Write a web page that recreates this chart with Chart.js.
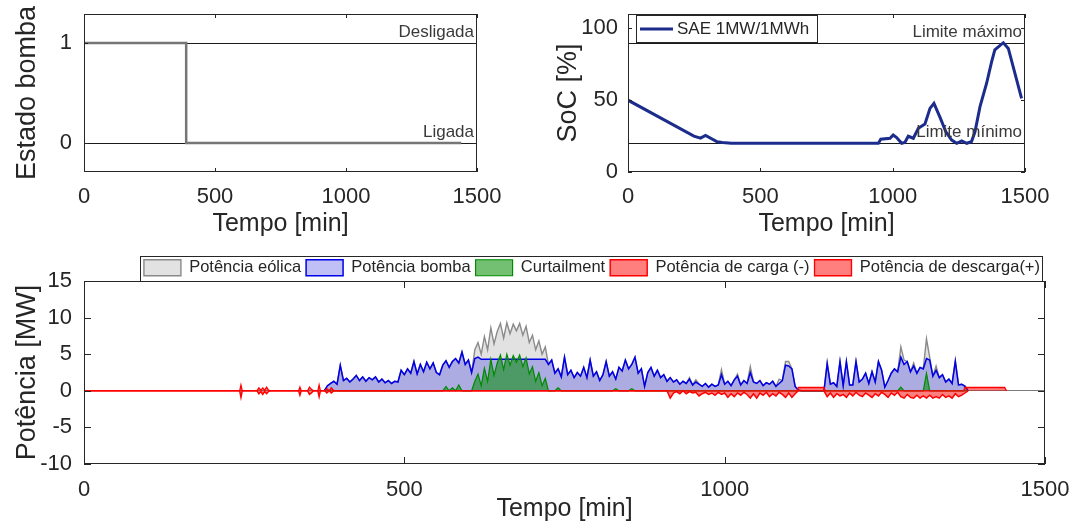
<!DOCTYPE html>
<html lang="pt">
<head>
<meta charset="utf-8">
<title>Estado da bomba, SoC e potências</title>
<script src="https://cdn.jsdelivr.net/npm/chart.js@4.4.1/dist/chart.umd.min.js"></script>
<style>
  html, body { margin: 0; padding: 0; background: #fff; }
  #figura { position: relative; width: 1076px; height: 523px; overflow: hidden; }
  canvas { position: absolute; }
</style>
</head>
<body>
<div id="figura">
  <canvas id="graficoEstado" width="540" height="252" style="left:0;top:-12px"></canvas>
  <canvas id="graficoSoc" width="536" height="252" style="left:540px;top:-12px"></canvas>
  <canvas id="graficoPotencia" width="1084" height="283" style="left:0;top:240px"></canvas>
</div>
<script>
"use strict";

// Marcas dos eixos
const ticksTempo = [0, 500, 1000, 1500];
const ticksEstado = [0, 1];
const ticksSoc = [0, 50, 100];
const ticksPotencia = [-10, -5, 0, 5, 10, 15];

// Estado da bomba (1 = desligada, 0 = ligada)
const estadoTempo = [0, 390, 390, 1440];
const estadoValor = [1, 1, 0, 0];

// Estado de carga do SAE [%]
const socTempo = [0, 249, 274, 293, 337, 357, 390, 946, 955, 990, 1002, 1015, 1034, 1046, 1059, 1078, 1097,
  1122, 1141, 1156, 1179, 1201, 1223, 1242, 1261, 1280, 1298, 1311, 1330, 1355, 1374, 1386, 1418, 1437, 1487];
const socValor = [50, 25, 23.6, 25.5, 21, 20.5, 20, 20, 22.8, 23.5, 25.8, 24, 20, 20.5, 24.9, 23.5, 30.4,
  33.4, 44.3, 47.8, 38, 28, 22.2, 20, 21.7, 20, 21.2, 28, 45.5, 61.8, 76.8, 85, 90, 86, 51.3];

// Potências [MW], uma amostra a cada 5 min a partir de 375 min
const inicioAmostras = 375;
const passo = 5;
const potenciaEolica = [
  0, 0.7, 1.0, 1.3, 0.9, 3.5, 1.4, 1.7, 1.2, 1.6,
  2.1, 1.4, 1.9, 1.3, 1.8, 1.5, 1.9, 1.2, 1.6, 1.1,
  1.4, 1.0, 1.3, 1.2, 2.8, 2.2, 3.0, 2.4, 4.0, 2.3,
  3.6, 2.6, 3.9, 3.0, 3.8, 2.5, 2.2, 3.5, 4.1, 3.2,
  4.0, 4.4, 3.8, 5.3, 3.6, 4.2, 2.5, 5.6, 6.6, 5.0,
  7.4, 5.6, 8.6, 6.4, 8.1, 9.2, 7.2, 9.3, 7.8, 9.1,
  8.2, 9.2, 7.6, 8.8, 6.6, 7.6, 5.6, 6.8, 5.0, 6.0,
  3.6, 4.2, 2.4, 3.0, 1.9, 4.6, 2.2, 2.8, 1.8, 2.5,
  2.0, 3.2, 1.8, 4.2, 2.0, 2.6, 1.4, 2.2, 4.0, 2.0,
  2.6, 1.6, 3.2, 2.7, 4.2, 3.0, 3.6, 4.6, 2.4, 3.0,
  0.6, 2.5, 3.2, 2.0, 2.8, 1.8, 2.2, 1.3, 1.8, 1.2,
  1.5, 0.9, 1.3, 1.0, 1.8, 0.8, 1.5, 0.9, 0.6, 1.0,
  0.5, 0.9, 0.6, 0.8, 2.9, 0.9, 1.3, 0.7, 1.5, 2.3,
  0.8, 1.4, 1.0, 3.3, 1.2, 1.0, 1.4, 0.7, 1.1, 0.9,
  1.3, 0.6, 1.6, 1.4, 4.0, 4.0, 3.0, 0.6, 0.1, 0,
  0, 0, 0, 0, 0, 0, 0, 3.9, 0.9, 1.1,
  0.6, 4.0, 0.7, 4.0, 0.8, 0.8, 4.0, 1.2, 1.6, 2.4,
  1.0, 2.6, 1.2, 4.0, 2.8, 0.5, 1.4, 2.4, 3.0, 2.6,
  6.0, 4.2, 4.0, 2.6, 3.8, 2.4, 3.2, 3.0, 7.1, 4.6,
  2.0, 3.4, 1.8, 2.2, 1.2, 1.6, 1.0, 4.2, 0.8, 0.9,
  0.7, 0
];
const potenciaBomba = [
  0, 0.7, 1.0, 1.3, 0.9, 3.5, 1.4, 1.7, 1.2, 1.6,
  2.1, 1.4, 1.9, 1.3, 1.8, 1.5, 1.9, 1.2, 1.6, 1.1,
  1.4, 1.0, 1.3, 1.2, 2.8, 2.2, 3.0, 2.4, 4.0, 2.3,
  3.6, 2.6, 3.9, 3.0, 3.8, 2.5, 2.2, 3.5, 4.1, 3.2,
  4.0, 4.4, 3.8, 5.3, 3.6, 4.2, 2.5, 4.4, 4.6, 4.3,
  4.3, 4.3, 4.3, 4.3, 4.3, 4.3, 4.3, 4.3, 4.3, 4.3,
  4.3, 4.3, 4.3, 4.3, 4.3, 4.3, 4.3, 4.3, 4.3, 4.3,
  3.6, 4.2, 2.4, 3.0, 1.9, 4.6, 2.2, 2.8, 1.8, 2.5,
  2.0, 3.2, 1.8, 4.2, 2.0, 2.6, 1.4, 2.2, 4.0, 2.0,
  2.6, 1.6, 3.2, 2.7, 4.2, 3.0, 3.6, 4.6, 2.4, 3.0,
  0.6, 2.5, 3.2, 2.0, 2.8, 1.8, 2.2, 1.3, 1.8, 1.2,
  1.5, 0.9, 1.3, 1.0, 1.6, 0.8, 1.2, 0.9, 0.6, 1.0,
  0.5, 0.9, 0.6, 0.8, 2.2, 0.9, 1.3, 0.7, 1.5, 2.0,
  0.8, 1.4, 1.0, 2.5, 1.2, 1.0, 1.4, 0.7, 1.1, 0.9,
  1.3, 0.6, 1.0, 1.4, 3.5, 3.4, 3.0, 0.6, 0.1, 0,
  0, 0, 0, 0, 0, 0, 0, 3.7, 0.9, 1.1,
  0.6, 4.0, 0.7, 4.0, 0.8, 0.8, 4.0, 1.2, 1.6, 2.4,
  1.0, 2.6, 1.2, 4.0, 2.8, 0.5, 1.4, 2.4, 3.0, 2.6,
  4.6, 3.6, 4.0, 2.6, 3.4, 2.4, 3.2, 3.0, 4.4, 4.2,
  2.0, 2.8, 1.8, 2.2, 1.2, 1.6, 1.0, 4.0, 0.8, 0.9,
  0.6, 0
];
const curtailment = [
  0, 0, 0, 0, 0, 0, 0, 0, 0, 0,
  0, 0, 0, 0, 0, 0, 0, 0, 0, 0,
  0, 0, 0, 0, 0, 0, 0, 0, 0, 0,
  0, 0, 0, 0, 0, 0, 0, 0, 0.6, 0,
  0.4, 0, 0.8, 0, 0, 0, 0, 1.3, 2.3, 0.7,
  3.1, 1.3, 4.3, 2.1, 3.8, 4.9, 2.9, 5.0, 3.5, 4.8,
  3.9, 4.9, 3.3, 4.5, 2.3, 3.3, 1.3, 2.5, 0.7, 1.7,
  0, 0, 0, 0.4, 0, 0, 0, 0, 0, 0,
  0, 0, 0, 0, 0, 0, 0, 0, 0, 0,
  0, 0.3, 0, 0, 0, 0, 0.3, 0, 0, 0,
  0, 0, 0, 0, 0, 0, 0, 0, 0, 0,
  0, 0, 0, 0, 0, 0, 0, 0, 0, 0,
  0, 0, 0, 0, 0, 0, 0, 0, 0, 0,
  0, 0, 0, 0, 0, 0, 0, 0, 0, 0,
  0, 0, 0, 0, 0, 0, 0, 0, 0, 0,
  0, 0, 0, 0, 0, 0, 0, 0, 0, 0,
  0, 0, 0, 0, 0, 0, 0, 0, 0, 0,
  0, 0, 0, 0, 0, 0, 0, 0, 0, 0,
  0.5, 0, 0, 0, 0, 0, 0, 0, 2.4, 0,
  0, 0, 0, 0, 0, 0, 0, 0, 0, 0,
  0, 0
];

// Potência de carga (-): picos isolados no início e amostras de 5 min a partir de 900 min
const cargaTempoInicial = [0, 243, 245, 247, 270, 273, 276, 279, 282, 285, 288, 291, 335, 337, 339,
  349, 352, 355, 358, 365, 367, 369, 376, 379, 383, 386, 390, 393];
const cargaValorInicial = [0, 0, -0.9, 0, 0, -0.4, -0.1, -0.5, -0.1, -0.4, -0.1, 0, 0, -0.6, 0,
  0, -0.5, -0.3, 0, 0, -0.8, 0, 0, -0.3, 0, -0.3, 0, 0];
const inicioCarga = 900;
const potenciaCarga = [
  0, 0, 0, -1.0, -0.3, -0.1, -0.4, 0, -0.4, -0.1,
  -0.3, -0.2, -0.7, -0.4, -0.2, -0.5, -0.3, -0.6, -0.2, -0.5,
  -0.3, -0.9, -0.4, -0.8, -0.3, -0.6, -0.2, -0.5, -1.0, -0.4,
  -1.0, -0.3, -0.6, -0.2, -0.8, -0.4, -0.7, -0.2, -0.5, -0.9,
  -0.3, -0.9, -0.4, 0, 0, 0, 0, 0, 0, 0,
  0, 0, -0.8, -0.3, -0.9, -0.4, -0.7, -0.5, -0.9, -0.3,
  -0.7, -0.2, -0.6, -0.8, -0.3, -0.6, -0.9, -0.4, -0.7, -0.2,
  -0.5, -0.9, -0.3, -0.6, -0.2, -0.8, -1.0, -0.5, -0.9, -1.0,
  -0.6, -1.0, -0.7, -1.0, -0.6, -1.0, -0.8, -1.0, -0.5, -0.9,
  -0.7, -1.0, -0.4, -0.8, -0.6, -0.3, 0
];

// Potência de descarga (+)
const descargaTempo = [0, 243, 245, 247, 270, 273, 276, 279, 282, 285, 288, 291, 335, 337, 339,
  349, 352, 355, 358, 365, 367, 369, 376, 379, 383, 386, 390, 393, 1113, 1115, 1155, 1157, 1373, 1375, 1437, 1440];
const descargaValor = [0, 0, 0.8, 0, 0, 0.4, 0.1, 0.4, 0.1, 0.5, 0.1, 0, 0, 0.5, 0,
  0, 0.5, 0.2, 0, 0, 0.8, 0, 0, 0.3, 0, 0.4, 0, 0, 0, 0.45, 0.45, 0, 0, 0.45, 0.45, 0];

// Cores e fontes
const fonte = "'Liberation Sans', Arial, Helvetica, sans-serif";
const corTexto = '#262626';
const corSoc = '#1c2c8c';

Chart.defaults.font.family = fonte;
Chart.defaults.color = corTexto;

// Monta pontos {x, y}
function pares(tempos, valores) {
  return tempos.map((t, i) => ({ x: t, y: valores[i] }));
}
function serieUniforme(inicio, valores) {
  return valores.map((v, i) => ({ x: inicio + i * passo, y: v }));
}

// Moldura do gráfico com as marcas para dentro (estilo MATLAB)
function moldura(marca) {
  return {
    id: 'moldura',
    afterDraw(chart) {
      const { ctx, chartArea: a } = chart;
      const x = chart.scales.x, y = chart.scales.y;
      ctx.save();
      ctx.strokeStyle = corTexto;
      ctx.lineWidth = 1;
      ctx.beginPath();
      x.ticks.forEach(t => {
        const px = Math.round(x.getPixelForValue(t.value)) + 0.5;
        ctx.moveTo(px, a.bottom); ctx.lineTo(px, a.bottom - marca);
        ctx.moveTo(px, a.top); ctx.lineTo(px, a.top + marca);
      });
      y.ticks.forEach(t => {
        const py = Math.round(y.getPixelForValue(t.value)) + 0.5;
        ctx.moveTo(a.left, py); ctx.lineTo(a.left + marca, py);
        ctx.moveTo(a.right, py); ctx.lineTo(a.right - marca, py);
      });
      ctx.stroke();
      ctx.strokeRect(Math.round(a.left) + 0.5, Math.round(a.top) + 0.5,
        Math.round(a.width) - 1, Math.round(a.height) - 1);
      ctx.restore();
    }
  };
}

// Linhas horizontais de referência com texto à direita
function referencias(linhas) {
  return {
    id: 'referencias',
    beforeDatasetsDraw(chart) {
      const { ctx, chartArea: a, scales: { y } } = chart;
      ctx.save();
      ctx.strokeStyle = '#1a1a1a';
      ctx.lineWidth = 1;
      ctx.beginPath();
      linhas.forEach(l => {
        const py = Math.round(y.getPixelForValue(l.valor)) + 0.5;
        ctx.moveTo(a.left, py); ctx.lineTo(a.right, py);
      });
      ctx.stroke();
      ctx.restore();
    },
    afterDatasetsDraw(chart) {
      const { ctx, chartArea: a, scales: { y } } = chart;
      ctx.save();
      ctx.font = '17px ' + fonte;
      ctx.fillStyle = '#3a3a3a';
      ctx.textAlign = 'right';
      ctx.textBaseline = 'alphabetic';
      linhas.forEach(l => {
        ctx.fillText(l.texto, a.right - 3, y.getPixelForValue(l.valor) - 6);
      });
      ctx.restore();
    }
  };
}

// Legenda dentro da área do gráfico de SoC
const legendaSoc = {
  id: 'legendaSoc',
  afterDraw(chart) {
    const { ctx, chartArea: a } = chart;
    const x0 = Math.round(a.left) + 8, y0 = Math.round(a.top) + 1, w = 181, h = 27;
    ctx.save();
    ctx.fillStyle = '#fff';
    ctx.fillRect(x0, y0, w, h);
    ctx.strokeStyle = corTexto;
    ctx.lineWidth = 1;
    ctx.strokeRect(x0 + 0.5, y0 + 0.5, w, h);
    ctx.strokeStyle = corSoc;
    ctx.lineWidth = 3;
    ctx.beginPath();
    ctx.moveTo(x0 + 4, y0 + h / 2 + 0.5);
    ctx.lineTo(x0 + 37, y0 + h / 2 + 0.5);
    ctx.stroke();
    ctx.fillStyle = corTexto;
    ctx.font = '17px ' + fonte;
    ctx.textBaseline = 'middle';
    ctx.fillText(chart.data.datasets[0].label, x0 + 41, y0 + h / 2 + 1);
    ctx.restore();
  }
};

// Caixa em volta da legenda do gráfico de potências
const molduraLegenda = {
  id: 'molduraLegenda',
  afterDraw(chart) {
    const caixas = chart.legend && chart.legend.legendHitBoxes;
    if (!caixas || !caixas.length) return;
    const ctx = chart.ctx;
    let esq = Infinity, dir = -Infinity;
    caixas.forEach(c => { esq = Math.min(esq, c.left); dir = Math.max(dir, c.left + c.width); });
    esq = Math.round(esq - 4);
    dir = Math.round(dir + 2);
    const topo = Math.round(caixas[0].top - 4);
    const alt = Math.round(caixas[0].height + 8);
    ctx.save();
    ctx.strokeStyle = corTexto;
    ctx.lineWidth = 1;
    ctx.strokeRect(esq + 0.5, topo + 0.5, dir - esq, alt);
    ctx.restore();
  }
};

// Rótulos sem separador de milhar
const rotuloSimples = v => String(v);

function eixoTempo(altura, padTicks, padTitulo) {
  return {
    type: 'linear', min: 0, max: 1500,
    afterBuildTicks: s => { s.ticks = ticksTempo.map(v => ({ value: v })); },
    afterFit: s => { s.height = altura; },
    grid: { display: false, drawTicks: false },
    border: { display: false },
    ticks: { font: { size: 22 }, color: corTexto, padding: padTicks, maxRotation: 0, autoSkip: false,
      callback: rotuloSimples },
    title: { display: true, text: 'Tempo [min]', font: { size: 25 }, color: corTexto,
      padding: { top: 0, bottom: padTitulo } }
  };
}

function eixoY(titulo, min, max, marcas, largura, padTicks, padTitulo, grade) {
  return {
    type: 'linear', min: min, max: max,
    afterBuildTicks: s => { s.ticks = marcas.map(v => ({ value: v })); },
    afterFit: s => { s.width = largura; },
    grid: grade || { display: false, drawTicks: false },
    border: { display: false },
    ticks: { font: { size: 22 }, color: corTexto, padding: padTicks, callback: rotuloSimples },
    title: { display: true, text: titulo, font: { size: 27 }, color: corTexto, padding: { top: padTitulo, bottom: 0 } }
  };
}

const comum = {
  responsive: false,
  animation: false,
  devicePixelRatio: 1,
  events: [],
  elements: { point: { radius: 0 }, line: { tension: 0 } }
};

// Estado da bomba (canvas começa 12 px acima da página)
new Chart(document.getElementById('graficoEstado'), {
  type: 'line',
  data: {
    datasets: [{
      label: 'Estado bomba',
      data: pares(estadoTempo, estadoValor),
      borderColor: '#767676',
      borderWidth: 2.5,
      fill: false
    }]
  },
  options: Object.assign({}, comum, {
    layout: { padding: { top: 26, right: 63, left: 0, bottom: 0 } },
    plugins: { legend: { display: false }, tooltip: { enabled: false } },
    scales: {
      x: eixoTempo(68, 12, 1),
      y: eixoY('Estado bomba', -0.29, 1.29, ticksEstado, 84, 12, 11)
    }
  }),
  plugins: [referencias([{ valor: 1, texto: 'Desligada' }, { valor: 0, texto: 'Ligada' }]), moldura(4)]
});

// SoC
new Chart(document.getElementById('graficoSoc'), {
  type: 'line',
  data: {
    datasets: [{
      label: 'SAE 1MW/1MWh',
      data: pares(socTempo, socValor),
      borderColor: corSoc,
      borderWidth: 3,
      fill: false
    }]
  },
  options: Object.assign({}, comum, {
    layout: { padding: { top: 26, right: 51, left: 0, bottom: 0 } },
    plugins: { legend: { display: false }, tooltip: { enabled: false } },
    scales: {
      x: eixoTempo(68, 12, 1),
      y: eixoY('SoC [%]', 0, 110, ticksSoc, 88, 10, 12)
    }
  }),
  plugins: [referencias([{ valor: 90, texto: 'Limite máximo' }, { valor: 20, texto: 'Limite mínimo' }]),
    moldura(4), legendaSoc]
});

// Potências (canvas um pouco mais largo que a página para o eixo chegar a 1045 px)
const baseSerie = { borderWidth: 1, fill: 'origin', pointRadius: 0 };
new Chart(document.getElementById('graficoPotencia'), {
  type: 'line',
  data: {
    datasets: [
      Object.assign({}, baseSerie, {
        label: 'Potência eólica', data: serieUniforme(inicioAmostras, potenciaEolica),
        borderColor: '#8a8a8a', backgroundColor: 'rgba(190,190,190,0.45)', borderWidth: 1.4, order: 5
      }),
      Object.assign({}, baseSerie, {
        label: 'Potência bomba', data: serieUniforme(inicioAmostras, potenciaBomba),
        borderColor: '#0000e6', backgroundColor: 'rgba(60,60,230,0.32)', borderWidth: 1.5, order: 4
      }),
      Object.assign({}, baseSerie, {
        label: 'Curtailment', data: serieUniforme(inicioAmostras, curtailment),
        borderColor: '#008a00', backgroundColor: 'rgba(0,140,0,0.55)', borderWidth: 1.2, order: 3
      }),
      Object.assign({}, baseSerie, {
        label: 'Potência de carga (-)',
        data: pares(cargaTempoInicial, cargaValorInicial).concat(serieUniforme(inicioCarga, potenciaCarga)),
        borderColor: '#ff0000', backgroundColor: 'rgba(255,0,0,0.5)', borderWidth: 1.5, order: 2
      }),
      Object.assign({}, baseSerie, {
        label: 'Potência de descarga(+)', data: pares(descargaTempo, descargaValor),
        borderColor: '#ff0000', backgroundColor: 'rgba(255,0,0,0.5)', borderWidth: 1.3, order: 1
      })
    ]
  },
  options: Object.assign({}, comum, {
    layout: { padding: { top: 14.5, right: 39, left: 0, bottom: 0 } },
    plugins: {
      tooltip: { enabled: false },
      legend: {
        display: true, position: 'top', align: 'end', maxHeight: 26.5,
        labels: { boxWidth: 37, boxHeight: 16, padding: 5, font: { size: 16.5 }, color: corTexto,
          sort: (a, b) => a.datasetIndex - b.datasetIndex }
      }
    },
    scales: {
      x: eixoTempo(59, 13, -1),
      y: eixoY('Potência [MW]', -10, 15, ticksPotencia, 84, 12, 11, {
        display: true, drawTicks: false, lineWidth: 1,
        color: c => (c.tick && c.tick.value === 0 ? '#7a7a7a' : 'rgba(0,0,0,0)')
      })
    }
  }),
  plugins: [moldura(7), molduraLegenda]
});
</script>
</body>
</html>
